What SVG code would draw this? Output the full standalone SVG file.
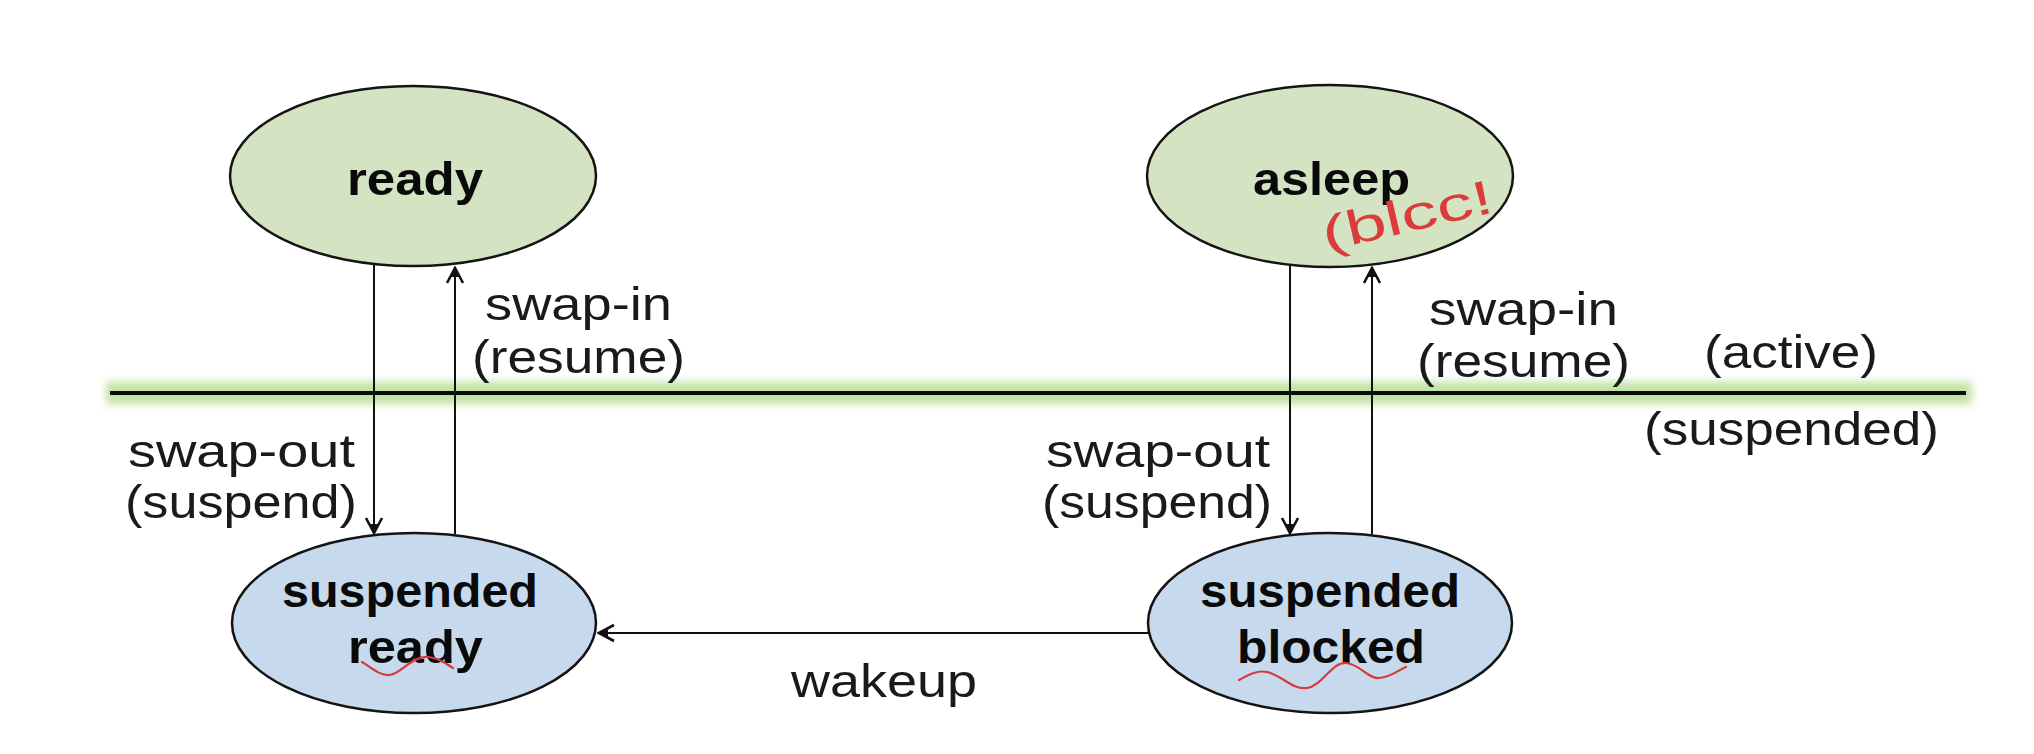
<svg xmlns="http://www.w3.org/2000/svg" width="2034" height="754" viewBox="0 0 2034 754">
<defs>
<style>
.node-g{fill:#d4e3c2;stroke:#141414;stroke-width:2.5}
.node-b{fill:#c7d9ec;stroke:#141414;stroke-width:2.5}
.b{font-family:"Liberation Sans",Arial,sans-serif;font-weight:bold;font-size:46px;fill:#0a0a0a}
.r{font-family:"Liberation Sans",Arial,sans-serif;font-size:46px;fill:#1a1a1a}
.edge{stroke:#111;stroke-width:2;fill:none}
.red{stroke:#d63a3a;stroke-width:2.2;fill:none;stroke-linecap:round}
</style>
<marker id="arr" viewBox="-18 -11 20 22" refX="0" refY="0" markerWidth="20" markerHeight="22" markerUnits="userSpaceOnUse" orient="auto">
<path d="M-15,-8 L0,0 L-15,8" fill="none" stroke="#111" stroke-width="2.6"/>
<path d="M-9,-4 L0,0 L-9,4 Z" fill="#111"/>
</marker>
<filter id="glow" x="-5%" y="-200%" width="110%" height="500%">
<feGaussianBlur stdDeviation="4"/>
</filter>
</defs>
<rect width="2034" height="754" fill="#ffffff"/>

<g id="divider">
<rect x="106" y="382" width="1866" height="22" fill="#c0e2a3" filter="url(#glow)"/>
<line x1="110" y1="393" x2="1966" y2="393" stroke="#0a0a0a" stroke-width="4"/>
<text class="r" x="1704" y="368" textLength="174" lengthAdjust="spacingAndGlyphs">(active)</text>
<text class="r" x="1644" y="445" textLength="295" lengthAdjust="spacingAndGlyphs">(suspended)</text>
</g>

<g id="connectors">
<line class="edge" x1="374" y1="265" x2="374" y2="533" marker-end="url(#arr)"/>
<line class="edge" x1="455" y1="534" x2="455" y2="268" marker-end="url(#arr)"/>
<line class="edge" x1="1290" y1="266" x2="1290" y2="533" marker-end="url(#arr)"/>
<line class="edge" x1="1372" y1="534" x2="1372" y2="268" marker-end="url(#arr)"/>
<line class="edge" x1="1148" y1="633" x2="599" y2="633" marker-end="url(#arr)"/>
<text class="r" x="485" y="320" textLength="187" lengthAdjust="spacingAndGlyphs">swap-in</text>
<text class="r" x="472" y="373" textLength="213" lengthAdjust="spacingAndGlyphs">(resume)</text>
<text class="r" x="1429" y="325" textLength="189" lengthAdjust="spacingAndGlyphs">swap-in</text>
<text class="r" x="1417" y="377" textLength="213" lengthAdjust="spacingAndGlyphs">(resume)</text>
<text class="r" x="128" y="467" textLength="227" lengthAdjust="spacingAndGlyphs">swap-out</text>
<text class="r" x="125" y="518" textLength="232" lengthAdjust="spacingAndGlyphs">(suspend)</text>
<text class="r" x="1046" y="467" textLength="224" lengthAdjust="spacingAndGlyphs">swap-out</text>
<text class="r" x="1042" y="518" textLength="230" lengthAdjust="spacingAndGlyphs">(suspend)</text>
<text class="r" x="791" y="697" textLength="186" lengthAdjust="spacingAndGlyphs">wakeup</text>
</g>

<g id="ready">
<ellipse class="node-g" cx="413" cy="176" rx="183" ry="90"/>
<text class="b" x="347" y="195" textLength="136" lengthAdjust="spacingAndGlyphs">ready</text>
</g>

<g id="asleep">
<ellipse class="node-g" cx="1330" cy="176" rx="183" ry="91"/>
<text class="b" x="1253" y="195" textLength="157" lengthAdjust="spacingAndGlyphs">asleep</text>
<text x="0" y="0" transform="translate(1326,251) rotate(-13)" font-family="'Liberation Sans',Arial,sans-serif" font-size="48" fill="#dc3b3b" textLength="174" lengthAdjust="spacingAndGlyphs">(blcc!</text>
</g>

<g id="suspended-ready">
<ellipse class="node-b" cx="414" cy="623" rx="182" ry="90"/>
<text class="b" x="282" y="607" textLength="256" lengthAdjust="spacingAndGlyphs">suspended</text>
<text class="b" x="348" y="663" textLength="135" lengthAdjust="spacingAndGlyphs">ready</text>
<path class="red" d="M362,662 C372,668 380,676 390,675 C402,673 412,656 428,657 C440,658 446,664 453,668"/>
</g>

<g id="suspended-blocked">
<ellipse class="node-b" cx="1330" cy="623" rx="182" ry="90"/>
<text class="b" x="1200" y="607" textLength="260" lengthAdjust="spacingAndGlyphs">suspended</text>
<text class="b" x="1237" y="663" textLength="188" lengthAdjust="spacingAndGlyphs">blocked</text>
<path class="red" d="M1239,680 C1250,674 1258,670 1267,672 C1282,675 1292,690 1307,688 C1322,686 1332,662 1346,663 C1360,664 1368,679 1379,678 C1392,677 1400,669 1406,667"/>
</g>
</svg>
